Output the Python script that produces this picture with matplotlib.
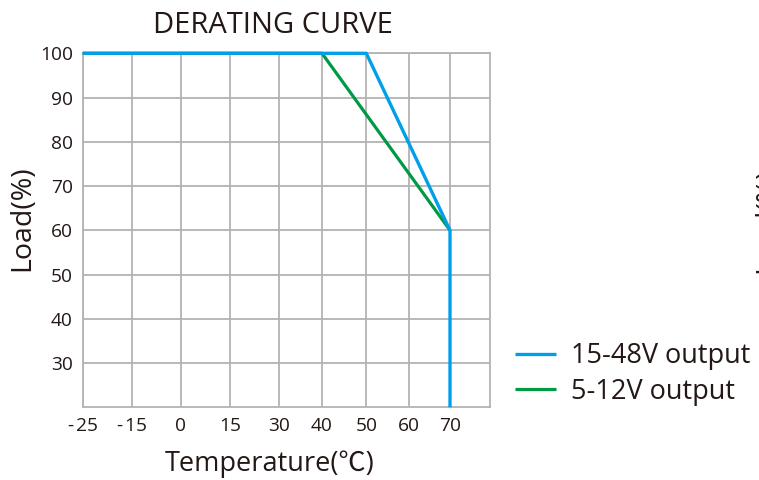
import numpy as np
import matplotlib.pyplot as plt

plt.rcParams['font.family'] = ['Open Sans', 'Noto Sans CJK SC', 'DejaVu Sans']

# data
tick_temps = [-25, -15, 0, 15, 30, 40, 50, 60, 70]
load_ticks = [30, 40, 50, 60, 70, 80, 90, 100]

temp_hi = [-25, 50, 70, 70]
load_hi = [100, 100, 60, 20]
temp_lo = [-25, 40, 70]
load_lo = [100, 100, 60]

# the drawn x axis is not linear: grid cells are hand placed
scale_temps = [-25, -15, 0, 15, 30, 40, 50, 60, 70, 80]
scale_pos = [0.0, 49.0, 98.3, 147.3, 196.6, 239.3, 283.6, 326.6, 367.3, 407.3]

def fwd(x):
    return np.interp(x, scale_temps, scale_pos)

def inv(p):
    return np.interp(p, scale_pos, scale_temps)

blue = '#00a0e9'
green = '#009944'
grid_c = '#b3b3b3'
txt_c = '#231815'

fig = plt.figure(figsize=(7.59, 4.8), dpi=100)
ax = fig.add_axes([82.7 / 759, 1 - 407.3 / 480, (490 - 82.7) / 759, (407.3 - 53.3) / 480])
ax.set_xscale('function', functions=(fwd, inv))

ax.plot(temp_lo, load_lo, color=green, lw=2.3, solid_capstyle='butt', zorder=3, clip_on=False)
ax.plot(temp_hi, load_hi, color=blue, lw=2.4, solid_capstyle='butt', zorder=4, clip_on=False)

ax.set_xlim(-25, 80)
ax.set_ylim(20, 100)
ax.set_xticks(tick_temps)
ax.set_xticklabels([str(t).replace('-', '-\u200a') for t in tick_temps])
ax.set_yticks(load_ticks)
ax.minorticks_off()
ax.grid(True, color=grid_c, lw=1.3)
ax.set_axisbelow(True)
for s in ax.spines.values():
    s.set_color(grid_c)
    s.set_linewidth(1.3)
ax.tick_params(length=0, labelsize=13.8, colors=txt_c)
ax.tick_params(axis='x', pad=7)
ax.tick_params(axis='y', pad=7)

ax.set_title('DERATING CURVE', fontsize=21, color=txt_c, x=0.467, pad=14.5)
ax.set_xlabel('Temperature(℃)', fontsize=19.5, color=txt_c)
ax.xaxis.set_label_coords(0.46, -0.12)
ax.set_ylabel('Load(%)', fontsize=20.5, color=txt_c, va='center')
ax.yaxis.set_label_coords(-0.149, 0.535)

fig.legend(loc='center left', bbox_to_anchor=(515 / 759, 1 - 374 / 480),
           handles=ax.lines[::-1], labels=['15-48V output', '5-12V output'],
           frameon=False, fontsize=19.5, handlelength=1.5, handletextpad=0.55,
           labelspacing=0.28, borderpad=0, borderaxespad=0, labelcolor=txt_c)

# clipped label of the neighbouring chart at the right edge
fig.text(767 / 759, 1 - 220 / 480, 'Load(%)', rotation=90, fontsize=20.5,
         color=txt_c, ha='center', va='center')

fig.savefig('out.png', dpi=100)
